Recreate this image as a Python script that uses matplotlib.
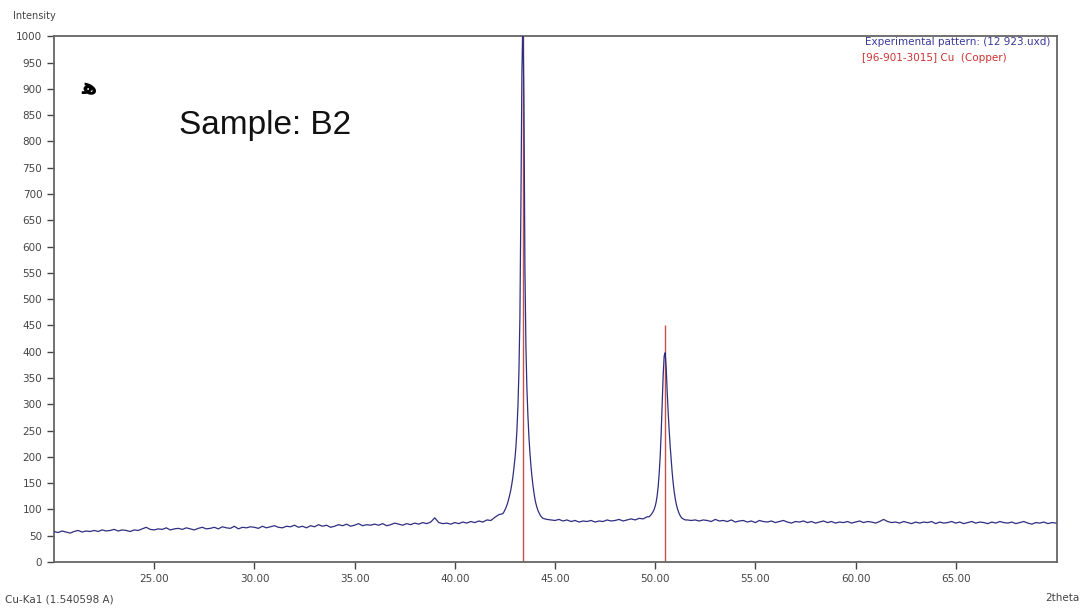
import numpy as np
import matplotlib.pyplot as plt

plt.rcParams['font.family'] = ['DejaVu Sans']

# scan pieces: 2theta grid and counts
bg1_x = np.linspace(20.0, 42.2, 112)
bg1_y = [58, 56, 59, 57, 55, 58, 60, 57, 59, 58,
         60, 58, 61, 59, 60, 62, 59, 61, 60, 58,
         61, 60, 63, 66, 62, 61, 63, 62, 65, 61,
         63, 64, 62, 65, 63, 61, 64, 66, 63, 64,
         66, 63, 67, 65, 64, 68, 63, 66, 65, 67,
         66, 64, 68, 65, 67, 69, 66, 65, 68, 67,
         70, 66, 68, 65, 69, 67, 71, 68, 70, 66,
         68, 71, 69, 72, 68, 70, 73, 69, 71, 70,
         72, 70, 73, 69, 71, 74, 72, 70, 73, 71,
         74, 72, 75, 73, 76, 84, 75, 73, 74, 72,
         75, 73, 76, 74, 77, 75, 78, 76, 80, 79,
         85, 90]

pk1_x = np.linspace(42.40, 44.40, 41)
pk1_y = [92, 95, 99, 103, 108, 114, 121, 129, 138, 149,
         162, 178, 196, 218, 250, 295, 360, 465, 680, 930,
         1040, 880, 560, 410, 330, 278, 238, 208, 183, 163,
         146, 132, 120, 111, 104, 98, 94, 90, 87, 85, 83]

bg2_x = np.linspace(44.6, 49.6, 26)
bg2_y = [81, 80, 79, 81, 78, 80, 77, 79, 76, 78,
         77, 79, 76, 78, 77, 80, 78, 79, 81, 78,
         80, 82, 80, 83, 82, 86]

pk2_x = np.linspace(49.70, 51.50, 37)
pk2_y = [86, 88, 90, 93, 96, 100, 106, 114, 126, 143,
         168, 200, 245, 300, 355, 392, 398, 370, 325, 285,
         250, 220, 195, 170, 150, 134, 121, 111, 103, 97,
         92, 88, 85, 83, 82, 81, 80]

bg3_x = np.linspace(51.6, 70.0, 93)
bg3_y = [80, 79, 80, 78, 80, 79, 77, 81, 78, 79,
         77, 80, 76, 78, 79, 76, 78, 75, 79, 77,
         76, 78, 75, 77, 79, 76, 74, 77, 76, 78,
         75, 77, 74, 76, 78, 75, 77, 74, 76, 75,
         77, 74, 76, 78, 75, 77, 76, 74, 77, 81,
         77, 75, 76, 74, 77, 75, 73, 76, 74, 76,
         75, 77, 73, 76, 74, 75, 77, 74, 76, 73,
         75, 77, 74, 76, 75, 73, 76, 74, 77, 75,
         74, 76, 73, 75, 77, 74, 72, 75, 74, 76,
         73, 75, 74]

# reference card [96-901-3015] Cu
ref_pos = [43.38, 50.50]
ref_int = [1000, 450]

two_theta = np.concatenate([bg1_x, pk1_x, bg2_x, pk2_x, bg3_x])
counts = np.concatenate([bg1_y, pk1_y, bg2_y, pk2_y, bg3_y])

fig = plt.figure(figsize=(10.83, 6.12), dpi=100)
ax = fig.add_axes([0.0499, 0.0817, 0.926, 0.859])

ax.vlines(ref_pos, 0, ref_int, color='#c8504b', lw=1.0, zorder=2)
ax.plot(two_theta, counts, color='#2e2e80', lw=0.9, zorder=3)

ax.set_xlim(20.0, 70.05)
ax.set_ylim(0, 1000)
ax.set_xticks([25, 30, 35, 40, 45, 50, 55, 60, 65])
ax.set_xticklabels(['%.2f' % v for v in [25, 30, 35, 40, 45, 50, 55, 60, 65]])
ax.set_yticks(range(0, 1001, 50))
ax.tick_params(labelsize=7.5, colors='#444444', length=5, width=1, direction='out')
for s in ax.spines.values():
    s.set_color('#666666')
    s.set_linewidth(1.3)

fig.text(0.012, 0.965, 'Intensity', fontsize=7, color='#444444', ha='left', va='bottom')
fig.text(0.005, 0.012, 'Cu-Ka1 (1.540598 A)', fontsize=7.5, color='#444444', ha='left', va='bottom')
fig.text(0.997, 0.015, '2theta', fontsize=7.5, color='#444444', ha='right', va='bottom')

ax.text(0.993, 0.999, 'Experimental pattern: (12 923.uxd)', transform=ax.transAxes,
        fontsize=7.5, color='#3a3a99', ha='right', va='top')
ax.text(0.806, 0.969, '[96-901-3015] Cu  (Copper)', transform=ax.transAxes,
        fontsize=7.5, color='#cc3333', ha='left', va='top')

ax.text(0.125, 0.83, 'Sample: B2', transform=ax.transAxes, fontsize=24,
        family='Liberation Sans', color='#111111', ha='left', va='center')
ax.text(0.035, 0.901, '\ufeeb', transform=ax.transAxes, fontsize=16,
        fontweight='bold', color='black', ha='center', va='center')

fig.savefig('out.png', dpi=100)
